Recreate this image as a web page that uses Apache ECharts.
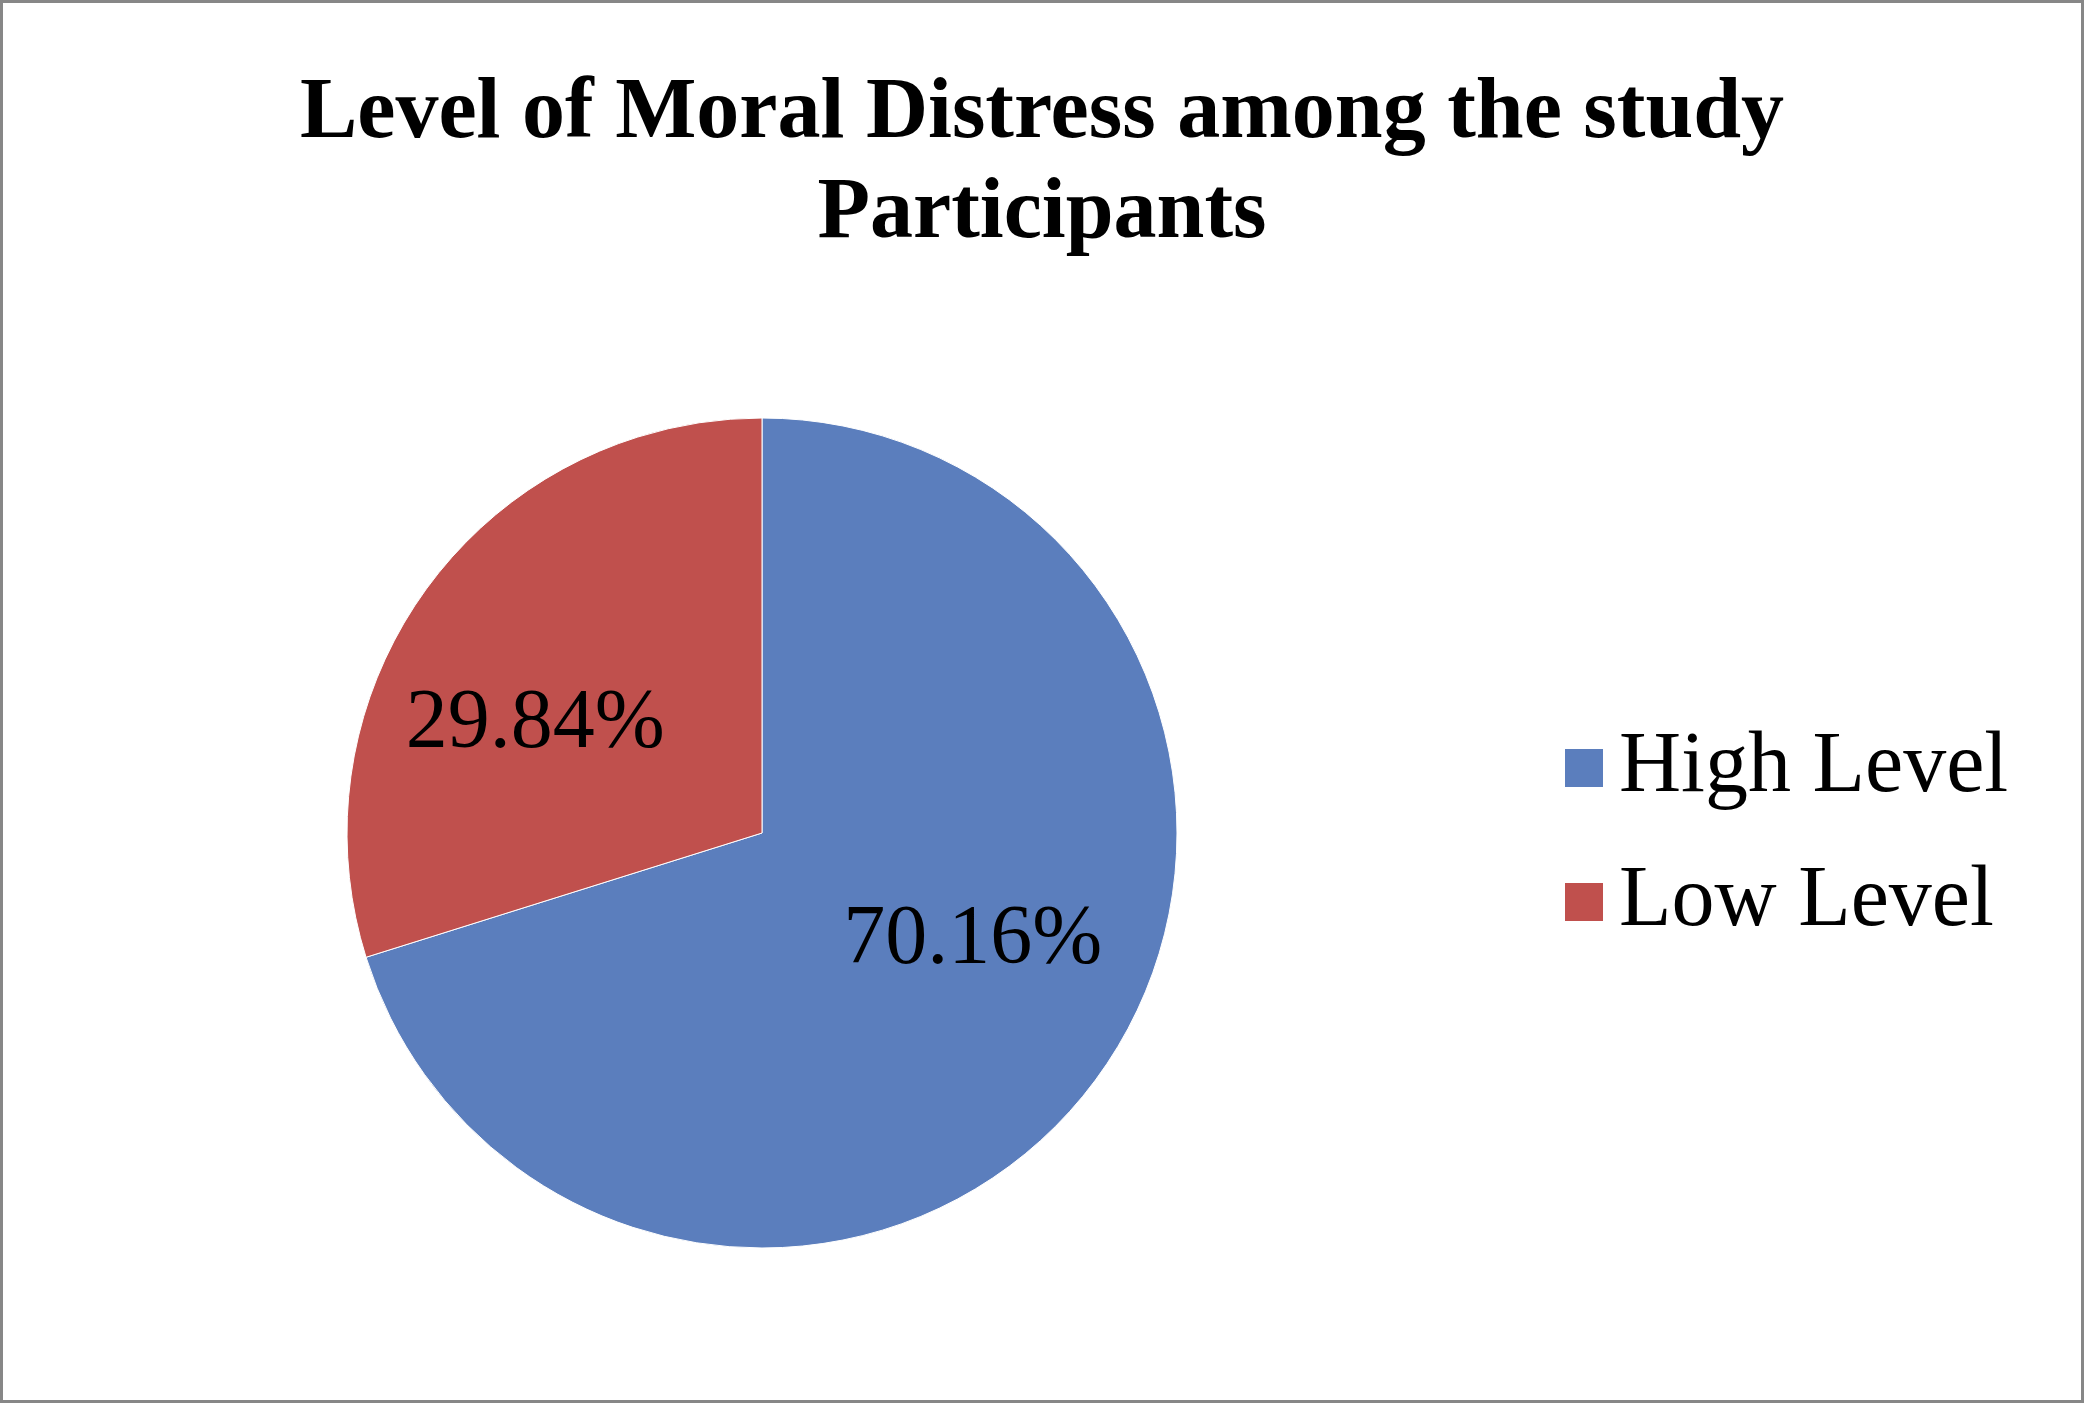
<!DOCTYPE html>
<html>
<head>
<meta charset="utf-8">
<script src="https://cdn.jsdelivr.net/npm/echarts@6/dist/echarts.min.js"></script>
<style>
html,body{margin:0;padding:0;background:#fff;}
#chart{width:2084px;height:1403px;}
</style>
</head>
<body>
<div id="chart"></div>
<script>
const titleText = "Level of Moral Distress among the study\nParticipants";
const categories = ["High Level", "Low Level"];
const percentages = [70.16, 29.84];
const colors = ["#5b7ebd", "#c0504d"];
const labelOffsets = [[41, -17], [-57, 17]];

const chart = echarts.init(document.getElementById('chart'), null, {renderer: 'canvas'});
const font = "'Liberation Serif', 'Times New Roman', serif";

chart.setOption({
  backgroundColor: '#ffffff',
  animation: false,
  title: {
    text: titleText,
    left: 'center',
    top: 60,
    textStyle: {
      fontFamily: font,
      fontWeight: 'bold',
      fontSize: 86,
      lineHeight: 100,
      color: '#000'
    }
  },
  legend: {
    orient: 'vertical',
    left: 1558,
    top: 720,
    itemWidth: 40,
    itemHeight: 40,
    itemGap: 48,
    icon: 'rect',
    data: categories,
    textStyle: {
      fontFamily: font,
      fontSize: 86,
      lineHeight: 86,
      color: '#000',
      padding: [0, 0, 0, 10]
    }
  },
  graphic: [{
    type: 'rect',
    shape: {x: 1.5, y: 1.5, width: 2081, height: 1400},
    style: {fill: 'none', stroke: '#878787', lineWidth: 3},
    silent: true,
    z: 100
  }],
  series: [{
    type: 'pie',
    center: [762, 833],
    radius: [0, 415],
    startAngle: 90,
    clockwise: true,
    avoidLabelOverlap: false,
    itemStyle: {borderColor: '#ffffff', borderWidth: 1},
    label: {
      show: true,
      position: 'inside',
      fontFamily: font,
      fontSize: 84,
      color: '#000',
      formatter: p => p.value.toFixed(2) + '%'
    },
    labelLine: {show: false},
    emphasis: {disabled: true},
    data: categories.map((c, i) => ({
      name: c,
      value: percentages[i],
      itemStyle: {color: colors[i]},
      label: {offset: labelOffsets[i]}
    }))
  }]
});
</script>
</body>
</html>
